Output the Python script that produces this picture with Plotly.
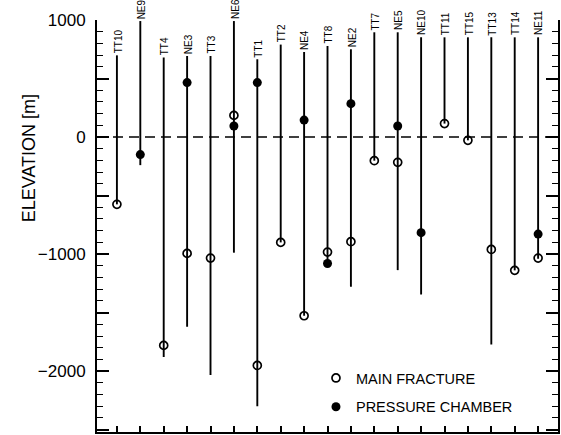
import plotly.graph_objects as go

wells = ["TT10", "NE9", "TT4", "NE3", "TT3", "NE6", "TT1", "TT2", "NE4", "TT8",
         "NE2", "TT7", "NE5", "NE10", "TT11", "TT15", "TT13", "TT14", "NE11"]
well_top = [698, 991, 679, 692, 692, 991, 664, 790, 727, 778,
            750, 895, 895, 852, 852, 852, 852, 852, 852]
well_bottom = [-575, -240, -1880, -1621, -2034, -988, -2299, -900, -1527, -1080,
               -1279, -202, -1137, -1345, 115, -28, -1772, -1139, -1040]
main_fracture = [-575, None, -1780, -994, -1034, 185, -1951, -900, -1527, -983,
                 -894, -202, -216, None, 115, -28, -960, -1139, -1034]
pressure_chamber = [None, -150, None, 465, None, 94, 465, None, 145, -1080,
                    285, None, 94, -817, None, None, None, None, -829]

y_tickvals = [1000, 500, 0, -500, -1000, -1500, -2000, -2500]
y_ticktext = ["1000", "", "0", "", "\u22121000", "", "\u22122000", ""]

FONT = "Liberation Sans, Arial, Helvetica, sans-serif"
idx = list(range(len(wells)))

# vertical lines for each well
lx, ly = [], []
for i, (t, b) in enumerate(zip(well_top, well_bottom)):
    lx += [i, i, None]
    ly += [b, t, None]

fig = go.Figure()
fig.add_trace(go.Scatter(x=lx, y=ly, mode="lines",
                         line=dict(color="black", width=1.9),
                         showlegend=False, hoverinfo="skip"))

mx = [i for i, v in zip(idx, main_fracture) if v is not None]
my = [v for v in main_fracture if v is not None]
px = [i for i, v in zip(idx, pressure_chamber) if v is not None]
py = [v for v in pressure_chamber if v is not None]

fig.add_trace(go.Scatter(x=mx, y=my, mode="markers", name="MAIN FRACTURE",
                         legend="legend",
                         marker=dict(symbol="circle-open", size=8, color="black",
                                     line=dict(width=1.7, color="black"))))
fig.add_trace(go.Scatter(x=px, y=py, mode="markers", name="PRESSURE CHAMBER",
                         legend="legend2",
                         marker=dict(symbol="circle", size=9, color="black")))

# zero line
fig.add_shape(type="line", xref="paper", x0=0, x1=1, yref="y", y0=0, y1=0,
              line=dict(color="black", width=1.6, dash="10px,6px"))

# well labels
for i, (name, t) in enumerate(zip(wells, well_top)):
    fig.add_annotation(x=i, y=t, text=name, showarrow=False, textangle=-90,
                       xanchor="center", yanchor="bottom", yshift=1, xshift=1,
                       borderpad=0,
                       font=dict(family=FONT, size=10, color="black"))

fig.add_annotation(xref="paper", yref="paper", x=-0.147, y=0.665,
                   text="ELEVATION [m]", showarrow=False, textangle=-90,
                   xanchor="center", yanchor="middle",
                   font=dict(family=FONT, size=18, color="black"))

legend_common = dict(xanchor="left", yanchor="middle", bgcolor="rgba(0,0,0,0)",
                     font=dict(family=FONT, size=14.5, color="black"),
                     itemwidth=30)

fig.update_layout(
    width=561, height=435,
    margin=dict(l=97, r=1, t=20, b=3),
    paper_bgcolor="white", plot_bgcolor="white",
    font=dict(family=FONT, color="black"),
    showlegend=True,
    legend=dict(x=0.475, y=0.131, **legend_common),
    legend2=dict(x=0.475, y=0.061, **legend_common),
    xaxis=dict(range=[-0.851, 18.85], showgrid=False, zeroline=False,
               showline=True, linecolor="black", linewidth=2,
               tickmode="array", tickvals=idx, ticktext=[""] * len(idx),
               ticks="inside", ticklen=6, tickwidth=1.5, tickcolor="black"),
    yaxis=dict(range=[-2520, 1000], showgrid=False, zeroline=False,
               showline=True, linecolor="black", linewidth=2, mirror="ticks",
               tickmode="array", tickvals=y_tickvals, ticktext=y_ticktext,
               ticks="inside", ticklen=12, tickwidth=1.5, tickcolor="black",
               tickfont=dict(family=FONT, size=17, color="black"),
               ticklabelstandoff=6,
               minor=dict(dtick=100, tick0=0, ticks="inside", ticklen=6,
                          tickwidth=1.2, tickcolor="black", showgrid=False)),
)

fig.write_html("out.html")
